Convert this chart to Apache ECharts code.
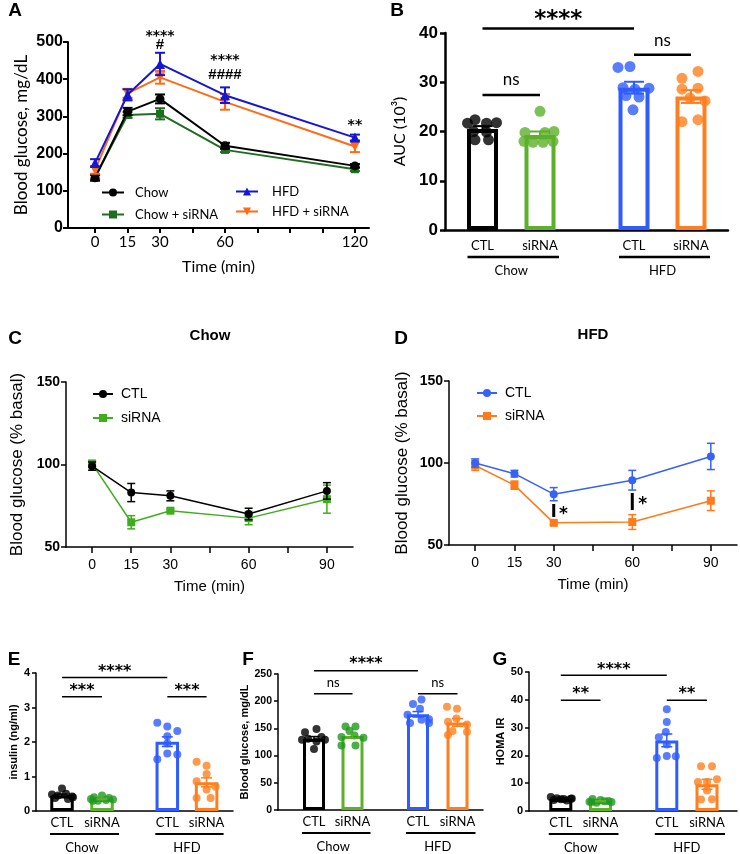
<!DOCTYPE html>
<html><head><meta charset="utf-8">
<script src="https://cdn.jsdelivr.net/npm/echarts@6/dist/echarts.min.js"></script>
<style>html,body{margin:0;padding:0;background:#fff}#main{width:740px;height:854px}</style>
</head><body><div id="main"></div>
<script>
// ================= DATA =================
// Panel A: glucose tolerance (mg/dL)
const timeA = [0, 15, 30, 60, 120];
const xTicksA = [0, 15, 30, 45, 60, 75, 90, 105, 120];
const chowA = [135, 313, 347, 221, 167];
const chowA_err = [8, 10, 12, 8, 5];
const chowSiA = [137, 304, 307, 210, 158];
const chowSiA_err = [6, 8, 15, 6, 5];
const hfdA = [175, 358, 441, 357, 243];
const hfdA_err = [10, 15, 30, 21, 8];
const hfdSiA = [156, 362, 405, 339, 219];
const hfdSiA_err = [10, 12, 17, 21, 15];

// Panel B: AUC (10^3)
const groupLabels = ['CTL', 'siRNA', 'CTL', 'siRNA'];
const dietGroups = ['Chow', 'HFD'];
const aucMean = [20.5, 19.3, 28.9, 27.1];
const aucSem = [0.6, 0.7, 1.2, 1.3];
const aucChowCtl = [21.7, 22.4, 21.7, 21.8, 20.0, 19.9, 18.3, 18.3];
const aucChowSi = [24.1, 19.8, 19.8, 20.0, 18.0, 17.8, 17.8, 18.0];
const aucHfdCtl = [33.0, 33.2, 28.9, 28.6, 28.8, 27.3, 27.0, 24.4];
const aucHfdSi = [30.8, 32.2, 28.6, 28.8, 26.8, 26.2, 22.0, 22.4];

// Panels C / D: insulin tolerance (% basal)
const timeCD = [0, 15, 30, 60, 90];
const xTicksCD = [0, 15, 30, 45, 60, 75, 90];
const chowCtlC = [99, 83, 81, 70, 84];
const chowCtlC_err = [2.5, 5.5, 3, 3.5, 5];
const chowSiC = [100.5, 65, 72, 67.5, 79];
const chowSiC_err = [2, 4, 1, 4, 8.5];
const hfdCtlD = [100, 93.5, 81, 89.5, 104];
const hfdCtlD_err = [2.5, 2, 4, 6, 8];
const hfdSiD = [98.5, 86.5, 63.5, 64, 77];
const hfdSiD_err = [3, 2.5, 1, 4.5, 6];

// Panel E: insulin (ng/ml)
const insMean = [0.45, 0.35, 2.01, 0.83];
const insSem = [0.04, 0.02, 0.14, 0.13];
const insChowCtl = [0.65, 0.48, 0.45, 0.50, 0.42, 0.38, 0.35, 0.40];
const insChowSi = [0.45, 0.40, 0.38, 0.35, 0.33, 0.30, 0.32, 0.30];
const insHfdCtl = [2.56, 2.45, 2.32, 2.17, 1.96, 1.50, 1.67, 1.64];
const insHfdSi = [1.43, 1.31, 1.07, 0.86, 0.70, 0.62, 0.38, 0.38];

// Panel F: blood glucose (mg/dL)
const bgMean = [131, 136, 176, 161];
const bgSem = [4, 4, 5, 7];
const bgChowCtl = [143, 149, 131, 126, 129, 112, 129, 134];
const bgChowSi = [153.6, 153.6, 145.6, 134, 137, 133, 118.6, 118.6];
const bgHfdCtl = [203, 195, 186, 175, 160, 166, 167, 160];
const bgHfdSi = [190, 186, 168, 162, 157, 145, 138, 144];

// Panel G: HOMA IR
const homaMean = [4.3, 3.5, 25.4, 9.6];
const homaSem = [0.2, 0.2, 2.3, 1.8];
const homaChowCtl = [5.0, 4.6, 4.3, 4.4, 4.0, 3.8, 4.5, 4.2];
const homaChowSi = [4.3, 4.0, 3.6, 3.3, 3.2, 3.0, 3.5, 3.2];
const homaHfdCtl = [36.6, 32.0, 28.4, 26.5, 23.9, 19.1, 19.8, 19.7];
const homaHfdSi = [16.1, 16.1, 11.4, 10.4, 10.4, 7.4, 4.1, 4.2];

// ================= LAYOUT / STYLE =================
const grids = [
  {left: 68, top: 42, width: 301, height: 186},   // A
  {left: 445, top: 33, width: 283, height: 197},  // B
  {left: 66, top: 382, width: 287, height: 165},  // C
  {left: 449, top: 381, width: 288, height: 164}, // D
  {left: 36, top: 673, width: 197, height: 138},  // E
  {left: 278, top: 674, width: 205, height: 136}, // F
  {left: 529, top: 672, width: 208, height: 139}  // G
];
// bar centre positions (pixels along each bar panel's x axis)
const posB = [37.5, 95, 189, 246];
const posE = [26, 66, 131.3, 170.6];
const posF = [36, 74.5, 140, 179.5];
const posG = [31.8, 71.5, 137.8, 178];
// dot jitter (px)
const jitB = [[-15,-7.5,4,14,-9,4,-7.5,6],[0,-15,5,14,-16,-7,3,13],[-16,-4,-11,1,15,-8,5,-1],[-9,7,-9,7,-1,14,-9,7]];
const jitE = [[0,-10,-4,4,10,-7,6,11],[0,-8,7,-11,11,-4,4,-9],[-10,0,10,0,0,-10,0,10],[-10,0,0,-10,9,0,-10,4]];
const jitF = [[-9,2.5,-6,2.5,11,0,-12,7.5],[-7,3,-3,-11,2,11,-11,3],[3.5,-5,2,-10.5,-8,3.5,11,11],[-10.5,-0.5,-1,-9.5,9.5,-5,-9.5,9.5]];
const jitG = [[-10,-4,3,10,-7,6,11,0],[-8,0,8,-11,11,-4,4,-9],[0,0,-1,-8,0,-10,0,9],[-6,5,10,0,-9,0,-6,5]];

const K = '#000000';
const A_GREEN = '#1f6e1f', A_BLUE = '#1515d4', A_ORANGE = '#ff6a17';
const C_GREEN = '#3fae1d', D_BLUE = '#3563f4', D_ORANGE = '#ff7a1a';
const BAR_COLORS = ['#000000', '#5db02a', '#2f5cff', '#ff7f1f'];
const DOT_B = ['#000000', '#5db02a', '#2f5cff', '#ff7f1f'];
const DOT_EFG = ['#000000', '#1e9a1e', '#2f5cff', '#ff7f1f'];
const DOWN_TRI = 'path://M0,0L10,0L5,9Z';
const ARIAL = '"Liberation Sans", Arial, sans-serif';
const LATO = 'Lato, "Open Sans", sans-serif';
const STARF = '"DejaVu Sans", sans-serif';

// ================= HELPERS =================
function errSeries(idx, data, colorFn, cap, lw, z) {
  return {
    type: 'custom', xAxisIndex: idx, yAxisIndex: idx, silent: true, z: z, data: data,
    renderItem(params, api) {
      const x = api.value(0), m = api.value(1), e = api.value(2);
      const t = api.coord([x, m + e]), b = api.coord([x, m - e]);
      const st = {stroke: colorFn(params.dataIndex), lineWidth: lw};
      return {type: 'group', children: [
        {type: 'line', shape: {x1: t[0], y1: t[1], x2: b[0], y2: b[1]}, style: st},
        {type: 'line', shape: {x1: t[0] - cap / 2, y1: t[1], x2: t[0] + cap / 2, y2: t[1]}, style: st},
        {type: 'line', shape: {x1: b[0] - cap / 2, y1: b[1], x2: b[0] + cap / 2, y2: b[1]}, style: st}
      ]};
    }
  };
}
function lineWithErr(name, idx, xs, ys, es, color, symbol, size, lw, cap, z) {
  return [
    {type: 'line', name: name, xAxisIndex: idx, yAxisIndex: idx, silent: true, z: z,
     data: xs.map((x, i) => [x, ys[i]]), symbol: symbol, symbolSize: size, showAllSymbol: true,
     lineStyle: {color: color, width: lw}, itemStyle: {color: color, borderWidth: 0}},
    errSeries(idx, xs.map((x, i) => [x, ys[i], es[i]]), () => color, cap, lw, z)
  ];
}
function starDy(text, fs) { return /^\*+$/.test(text) ? fs * 0.22 : 0; }
// free annotations: lines (x1,y1,x2,y2) and texts (x,y,text)
function annoSeries(idx, items) {
  return {
    type: 'custom', xAxisIndex: idx, yAxisIndex: idx, silent: true, z: 20, clip: false,
    data: items.map(it => [it.x, it.y]),
    renderItem(params, api) {
      const it = items[params.dataIndex];
      if (it.kind === 'line') {
        const p1 = api.coord([it.x, it.y]), p2 = api.coord([it.x2, it.y2]);
        return {type: 'line', shape: {x1: p1[0], y1: p1[1], x2: p2[0], y2: p2[1]}, style: {stroke: K, lineWidth: it.w}};
      }
      const p = api.coord([it.x, it.y]);
      return {type: 'text', x: p[0], y: p[1] + starDy(it.text, it.fs),
        style: {text: it.text, font: it.font, fill: K, align: 'center', verticalAlign: 'middle'}};
    }
  };
}
// significance brackets between bars a and b
function brackets(idx, pos, specs, lw) {
  const items = [];
  specs.forEach(s => {
    items.push({kind: 'line', x: pos[s.a], y: s.y, x2: pos[s.b], y2: s.y, w: lw});
    items.push({kind: 'text', x: (pos[s.a] + pos[s.b]) / 2, y: s.ty, text: s.text, fs: s.fs,
      font: (s.text === 'ns' ? s.fs + 'px ' + LATO : 'bold ' + s.fs + 'px ' + STARF)});
  });
  return annoSeries(idx, items);
}
function dietSeries(idx, pos, dLine, dText, lw, fs, padL, padR) {
  const pairs = [[pos[0], pos[1]], [pos[2], pos[3]]];
  return {
    type: 'custom', xAxisIndex: idx, yAxisIndex: idx, silent: true, z: 20, clip: false,
    data: pairs.map(p => [p[0], 0]),
    renderItem(params, api) {
      const p = pairs[params.dataIndex];
      const a = api.coord([p[0], 0]), b = api.coord([p[1], 0]);
      const y = a[1];
      return {type: 'group', children: [
        {type: 'line', shape: {x1: a[0] - padL, y1: y + dLine, x2: b[0] + padR, y2: y + dLine}, style: {stroke: K, lineWidth: lw}},
        {type: 'text', x: (a[0] + b[0]) / 2, y: y + dText,
         style: {text: dietGroups[params.dataIndex], font: fs + 'px ' + LATO, fill: K, align: 'center', verticalAlign: 'middle'}}
      ]};
    }
  };
}
function barPanel(idx, pos, means, sems, dots, jit, o) {
  const s = [];
  s.push({type: 'bar', xAxisIndex: idx, yAxisIndex: idx, silent: true, z: 2, barWidth: o.barW,
    data: pos.map((p, i) => ({value: [p, means[i]], itemStyle: {color: '#ffffff', borderColor: BAR_COLORS[i], borderWidth: o.border}}))});
  const pts = [];
  dots.forEach((arr, g) => arr.forEach((v, k) => pts.push({value: [pos[g] + jit[g][k], v], itemStyle: {color: o.dotColors[g]}})));
  s.push({type: 'scatter', xAxisIndex: idx, yAxisIndex: idx, silent: true, z: 3, symbol: 'circle', symbolSize: o.dotSize, data: pts});
  s.push(errSeries(idx, pos.map((p, i) => [p, means[i], sems[i]]), i => BAR_COLORS[i], o.cap, o.errW, 4));
  return s;
}
function barXAxis(idx, max, pos, fs, lw, margin) {
  return {type: 'value', gridIndex: idx, min: 0, max: max, splitLine: {show: false},
    axisLine: {show: true, onZero: false, lineStyle: {color: K, width: lw}},
    axisTick: {show: false},
    axisLabel: {customValues: pos, margin: margin, fontFamily: LATO, fontSize: fs, color: K,
      formatter: v => { let k = 0, d = 1e9; pos.forEach((p, i) => { const dd = Math.abs(p - v); if (dd < d) { d = dd; k = i; } }); return groupLabels[k]; }}};
}
function yAxisCfg(idx, min, max, interval, o) {
  return {type: 'value', gridIndex: idx, min: min, max: max, interval: interval, splitLine: {show: false},
    axisLine: {show: true, onZero: false, lineStyle: {color: K, width: o.lw}},
    axisTick: {show: true, length: o.tick, lineStyle: {color: K, width: o.lw}},
    axisLabel: {fontFamily: ARIAL, fontWeight: 'bold', fontSize: o.fs, color: K, margin: o.margin},
    name: o.name, nameLocation: 'middle', nameGap: o.gap,
    nameTextStyle: {fontFamily: o.nameFont, fontSize: o.nameFs, fontWeight: o.nameBold ? 'bold' : 'normal', color: K}};
}
function timeXAxis(idx, min, max, ticks, labels, o) {
  return {type: 'value', gridIndex: idx, min: min, max: max, splitLine: {show: false},
    axisLine: {show: true, onZero: false, lineStyle: {color: K, width: o.lw}},
    axisTick: {show: true, customValues: ticks, length: o.tick, lineStyle: {color: K, width: o.lw}},
    axisLabel: {customValues: labels, margin: o.margin, fontFamily: o.font, fontSize: o.fs, color: K},
    name: 'Time (min)', nameLocation: 'middle', nameGap: o.gap,
    nameTextStyle: {fontFamily: o.font, fontSize: o.nameFs, color: K}};
}

// ================= SERIES =================
const series = [];
// A
series.push(...lineWithErr('Chow', 0, timeA, chowA, chowA_err, K, 'circle', 9, 2, 10, 5));
series.push(...lineWithErr('Chow + siRNA', 0, timeA, chowSiA, chowSiA_err, A_GREEN, 'rect', 8, 2, 10, 4));
series.push(...lineWithErr('HFD + siRNA', 0, timeA, hfdSiA, hfdSiA_err, A_ORANGE, DOWN_TRI, 10, 2, 10, 6));
series.push(...lineWithErr('HFD', 0, timeA, hfdA, hfdA_err, A_BLUE, 'triangle', 10, 2, 10, 7));
series.push(annoSeries(0, [
  {kind: 'text', x: 30, y: 524, text: '****', fs: 14, font: 'bold 14px ' + STARF},
  {kind: 'text', x: 30, y: 493, text: '#', fs: 15, font: 'bold 15px ' + ARIAL},
  {kind: 'text', x: 60, y: 460, text: '****', fs: 14, font: 'bold 14px ' + STARF},
  {kind: 'text', x: 60, y: 413, text: '####', fs: 15, font: 'bold 15px ' + ARIAL},
  {kind: 'text', x: 120, y: 283, text: '**', fs: 14, font: 'bold 14px ' + STARF}
]));
// B
series.push(...barPanel(1, posB, aucMean, aucSem, [aucChowCtl, aucChowSi, aucHfdCtl, aucHfdSi], jitB,
  {barW: 31, border: 4, dotSize: 11, dotColors: DOT_B, cap: 20, errW: 2}));
series.push(brackets(1, posB, [
  {a: 0, b: 2, y: 40.9, ty: 43.7, text: '****', fs: 23},
  {a: 2, b: 3, y: 35.6, ty: 38.4, text: 'ns', fs: 17},
  {a: 0, b: 1, y: 27.4, ty: 30.5, text: 'ns', fs: 17}
], 2.5));
series.push(dietSeries(1, posB, 27, 41, 2.5, 13, 15, 19));
// C
series.push(...lineWithErr('CTL', 2, timeCD, chowCtlC, chowCtlC_err, K, 'circle', 8, 1.5, 8, 5));
series.push(...lineWithErr('siRNA', 2, timeCD, chowSiC, chowSiC_err, C_GREEN, 'rect', 8, 1.5, 8, 4));
// D
series.push(...lineWithErr('CTL ', 3, timeCD, hfdCtlD, hfdCtlD_err, D_BLUE, 'circle', 8, 1.5, 8, 5));
series.push(...lineWithErr('siRNA ', 3, timeCD, hfdSiD, hfdSiD_err, D_ORANGE, 'rect', 8, 1.5, 8, 4));
series.push(annoSeries(3, [
  {kind: 'line', x: 30, y: 67.1, x2: 30, y2: 75, w: 3},
  {kind: 'text', x: 33.7, y: 70.9, text: '*', fs: 17, font: 'bold 17px ' + STARF},
  {kind: 'line', x: 60, y: 71.3, x2: 60, y2: 81.7, w: 3},
  {kind: 'text', x: 64, y: 76.8, text: '*', fs: 17, font: 'bold 17px ' + STARF}
]));
// E
series.push(...barPanel(4, posE, insMean, insSem, [insChowCtl, insChowSi, insHfdCtl, insHfdSi], jitE,
  {barW: 23.5, border: 3, dotSize: 8, dotColors: DOT_EFG, cap: 11, errW: 1.5}));
series.push(brackets(4, posE, [
  {a: 0, b: 2, y: 3.87, ty: 4.13, text: '****', fs: 16},
  {a: 0, b: 1, y: 3.31, ty: 3.58, text: '***', fs: 16},
  {a: 2, b: 3, y: 3.31, ty: 3.58, text: '***', fs: 16}
], 1.5));
series.push(dietSeries(4, posE, 23, 37, 2, 13, 12, 17));
// F
series.push(...barPanel(5, posF, bgMean, bgSem, [bgChowCtl, bgChowSi, bgHfdCtl, bgHfdSi], jitF,
  {barW: 22, border: 3, dotSize: 8, dotColors: DOT_EFG, cap: 11, errW: 1.5}));
series.push(brackets(5, posF, [
  {a: 0, b: 2, y: 256, ty: 275, text: '****', fs: 16},
  {a: 0, b: 1, y: 213.7, ty: 234.5, text: 'ns', fs: 13},
  {a: 2, b: 3, y: 213.7, ty: 234.5, text: 'ns', fs: 13}
], 1.5));
series.push(dietSeries(5, posF, 23, 37, 2, 13, 12, 18));
// G
series.push(...barPanel(6, posG, homaMean, homaSem, [homaChowCtl, homaChowSi, homaHfdCtl, homaHfdSi], jitG,
  {barW: 23, border: 3, dotSize: 8, dotColors: DOT_EFG, cap: 11, errW: 1.5}));
series.push(brackets(6, posG, [
  {a: 0, b: 2, y: 48.8, ty: 52, text: '****', fs: 16},
  {a: 0, b: 1, y: 39.8, ty: 43.4, text: '**', fs: 16},
  {a: 2, b: 3, y: 39.8, ty: 43.4, text: '**', fs: 16}
], 1.5));
series.push(dietSeries(6, posG, 23, 37, 2, 13, 12, 18));

// ================= AXES =================
const xAxes = [
  timeXAxis(0, -12.5, 126.5, xTicksA, timeA, {lw: 2, tick: 5, margin: 7, font: LATO, fs: 15, gap: 31, nameFs: 16}),
  barXAxis(1, grids[1].width, posB, 13, 2.5, 9),
  timeXAxis(2, -10, 100, xTicksCD, timeCD, {lw: 1.5, tick: 6, margin: 11, font: ARIAL, fs: 14, gap: 32, nameFs: 15}),
  timeXAxis(3, -10, 100, xTicksCD, timeCD, {lw: 1.5, tick: 6, margin: 11, font: ARIAL, fs: 14, gap: 32, nameFs: 15}),
  barXAxis(4, grids[4].width, posE, 13, 1.5, 5),
  barXAxis(5, grids[5].width, posF, 13, 1.5, 5),
  barXAxis(6, grids[6].width, posG, 13, 1.5, 5)
];
const yAxes = [
  yAxisCfg(0, 0, 500, 100, {lw: 2, tick: 5, fs: 16, margin: 5, name: 'Blood glucose, mg/dL', gap: 38, nameFont: LATO, nameFs: 17}),
  yAxisCfg(1, 0, 40, 10, {lw: 2.5, tick: 5, fs: 17, margin: 7, name: 'AUC (10³)', gap: 37, nameFont: LATO, nameFs: 16}),
  yAxisCfg(2, 50, 150, 50, {lw: 1.5, tick: 5, fs: 14, margin: 6, name: 'Blood glucose (% basal)', gap: 40, nameFont: ARIAL, nameFs: 17}),
  yAxisCfg(3, 50, 150, 50, {lw: 1.5, tick: 5, fs: 14, margin: 6, name: 'Blood glucose (% basal)', gap: 38, nameFont: ARIAL, nameFs: 17}),
  yAxisCfg(4, 0, 4, 1, {lw: 1.5, tick: 4, fs: 11, margin: 6, name: 'insulin (ng/ml)', gap: 17, nameFont: ARIAL, nameFs: 11, nameBold: true}),
  yAxisCfg(5, 0, 250, 50, {lw: 1.5, tick: 4, fs: 10.5, margin: 6, name: 'Blood glucose, mg/dL', gap: 19, nameFont: ARIAL, nameFs: 11, nameBold: true}),
  yAxisCfg(6, 0, 50, 10, {lw: 1.5, tick: 4, fs: 11, margin: 6, name: 'HOMA IR', gap: 18, nameFont: ARIAL, nameFs: 11, nameBold: true})
];

// ================= TEXT (panel letters, titles) =================
function txt(x, y, t, font) {
  return {type: 'text', x: x, y: y, silent: true, style: {text: t, font: font, fill: K, align: 'center', verticalAlign: 'middle'}};
}
const LET = 'bold 19px ' + ARIAL;
const graphic = [
  txt(15, 11, 'A', LET), txt(397, 11, 'B', LET), txt(15, 339, 'C', LET), txt(401, 339, 'D', LET),
  txt(14, 660, 'E', LET), txt(248, 660, 'F', LET), txt(500, 660, 'G', LET),
  txt(210, 336, 'Chow', 'bold 15px ' + ARIAL), txt(593, 335, 'HFD', 'bold 15px ' + ARIAL)
];

const legendBase = {orient: 'vertical', selectedMode: false, itemWidth: 22, itemHeight: 10, padding: 0};
const option = {
  animation: false,
  backgroundColor: '#ffffff',
  grid: grids.map(g => Object.assign({containLabel: false}, g)),
  xAxis: xAxes,
  yAxis: yAxes,
  legend: [
    Object.assign({}, legendBase, {data: ['Chow', 'Chow + siRNA'], left: 101, top: 186, itemGap: 9,
      textStyle: {fontFamily: LATO, fontSize: 13, color: K, padding: [0, 0, 0, 6]}}),
    Object.assign({}, legendBase, {data: ['HFD', 'HFD + siRNA'], left: 235, top: 185, itemGap: 7,
      textStyle: {fontFamily: LATO, fontSize: 13, color: K, padding: [0, 0, 0, 9]}}),
    Object.assign({}, legendBase, {data: ['CTL', 'siRNA'], left: 92, top: 387, itemGap: 10, itemWidth: 20,
      textStyle: {fontFamily: ARIAL, fontSize: 14, color: K, padding: [0, 0, 0, 3]}}),
    Object.assign({}, legendBase, {data: ['CTL ', 'siRNA '], left: 476, top: 386, itemGap: 9, itemWidth: 20,
      formatter: n => n.trim(),
      textStyle: {fontFamily: ARIAL, fontSize: 14, color: K, padding: [0, 0, 0, 3]}})
  ],
  graphic: graphic,
  series: series
};
const chart = echarts.init(document.getElementById('main'), null, {renderer: 'canvas'});
chart.setOption(option);
</script>
</body></html>
